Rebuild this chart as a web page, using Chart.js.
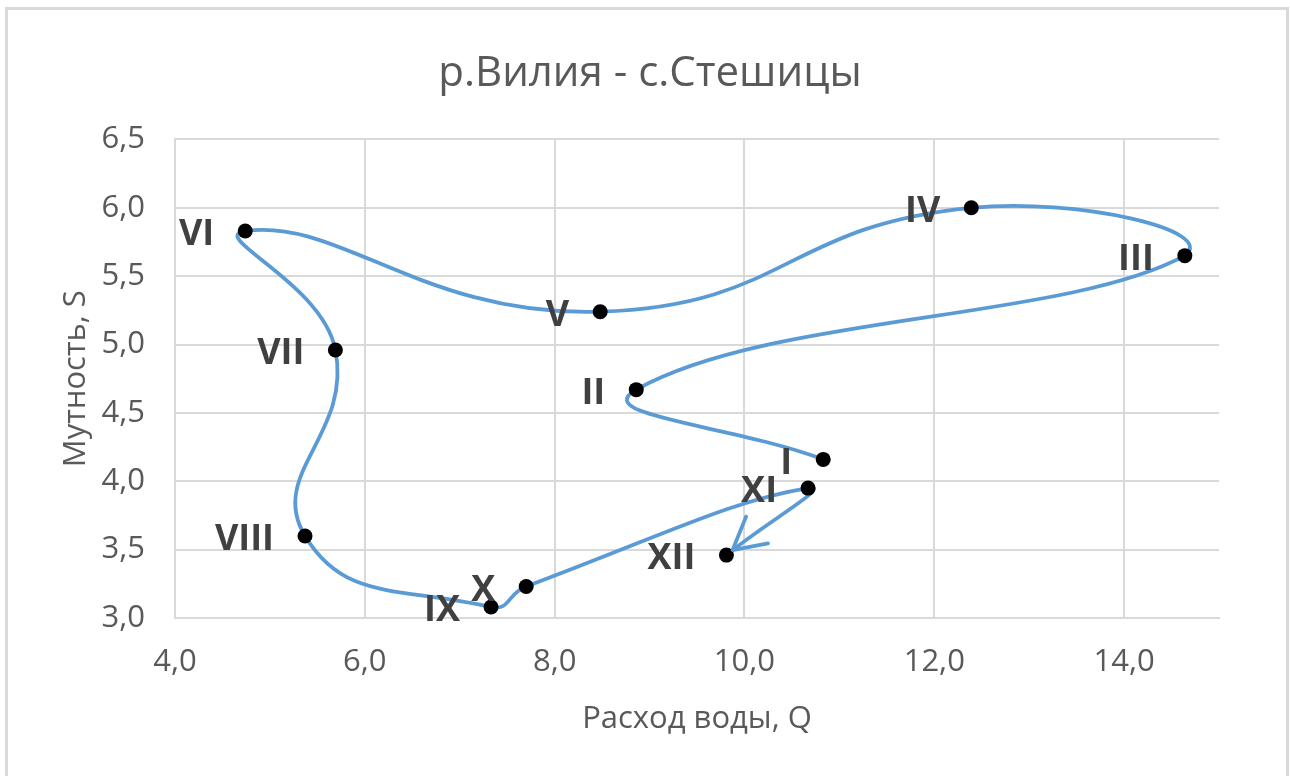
<!DOCTYPE html>
<html>
<head>
<meta charset="utf-8">
<script src="https://cdn.jsdelivr.net/npm/chart.js@4.4.1/dist/chart.umd.min.js"></script>
<style>
  html, body { margin: 0; padding: 0; background: #fff; overflow: hidden; }
  #wrap { position: absolute; left: 0; top: 0; width: 1290px; height: 776px; }
  #frame { position: absolute; left: 5px; top: 7px; width: 1278px; height: 800px;
           border: 3px solid #d9d9d9; pointer-events: none; }
</style>
</head>
<body>
<div id="wrap">
  <canvas id="c" width="1290" height="776"></canvas>
  <div id="frame"></div>
</div>
<script>
// ---- data ----
const monthLabels = ['I', 'II', 'III', 'IV', 'V', 'VI', 'VII', 'VIII', 'IX', 'X', 'XI', 'XII'];
const discharge = [10.83, 8.86, 14.64, 12.39, 8.48, 4.74, 5.69, 5.37, 7.33, 7.70, 10.67, 9.81];
const turbidity = [4.16, 4.67, 5.65, 6.00, 5.24, 5.83, 4.96, 3.60, 3.08, 3.23, 3.95, 3.46];
const xTicks = [4, 6, 8, 10, 12, 14];
const chartTitle = 'р.Вилия - с.Стешицы';
const xTitle = 'Расход воды, Q';
const yTitle = 'Мутность, S';

const FONT = "'Open Sans', 'Liberation Sans', sans-serif";
const GRID = '#d9d9d9';
const TEXT = '#595959';
const LINE = '#5B9BD5';

const points = discharge.map((q, i) => ({ x: q, y: turbidity[i] }));

const labelsAndArrow = {
  id: 'labelsAndArrow',
  afterDatasetsDraw(chart) {
    const ctx = chart.ctx;
    const meta = chart.getDatasetMeta(0);
    const els = meta.data;
    // open arrowhead at the end of the line
    const last = els[els.length - 1];
    const prev = els[els.length - 2];
    let fx = last.cp1x !== undefined ? last.cp1x : prev.x;
    let fy = last.cp1y !== undefined ? last.cp1y : prev.y;
    if (Math.hypot(last.x - fx, last.y - fy) < 1) { fx = prev.x; fy = prev.y; }
    const ang = Math.atan2(last.y - fy, last.x - fx);
    const tipX = last.x - 8 * Math.cos(ang);
    const tipY = last.y - 8 * Math.sin(ang);
    const wing = 36, spread = 0.5;
    ctx.save();
    ctx.strokeStyle = LINE;
    ctx.lineWidth = 3.8;
    ctx.lineCap = 'round';
    ctx.lineJoin = 'round';
    ctx.beginPath();
    ctx.moveTo(tipX - wing * Math.cos(ang - spread), tipY - wing * Math.sin(ang - spread));
    ctx.lineTo(tipX, tipY);
    ctx.lineTo(tipX - wing * Math.cos(ang + spread), tipY - wing * Math.sin(ang + spread));
    ctx.stroke();
    ctx.restore();

    // data labels, to the left of each point
    ctx.save();
    ctx.font = "bold 36px " + FONT;
    ctx.fillStyle = '#404040';
    ctx.textAlign = 'right';
    ctx.textBaseline = 'middle';
    els.forEach((el, i) => {
      ctx.fillText(monthLabels[i], el.x - 31, el.y + 4);
    });
    ctx.restore();
  }
};

new Chart(document.getElementById('c'), {
  type: 'scatter',
  data: {
    datasets: [{
      data: points,
      showLine: true,
      borderColor: LINE,
      borderWidth: 3.8,
      tension: 0.5,
      pointRadius: 7.5,
      pointHoverRadius: 7.5,
      pointBackgroundColor: '#000',
      pointBorderColor: '#000',
      pointBorderWidth: 0,
      clip: false
    }]
  },
  options: {
    responsive: false,
    animation: false,
    devicePixelRatio: 1,
    layout: { padding: { left: 10, right: 0, top: 0, bottom: 0 } },
    plugins: {
      legend: { display: false },
      tooltip: { enabled: false },
      title: {
        display: true,
        text: chartTitle,
        color: TEXT,
        font: { family: FONT, size: 42, weight: 'normal' },
        padding: { top: 49, bottom: 40 }
      }
    },
    scales: {
      x: {
        type: 'linear',
        min: 4, max: 15,
        afterBuildTicks(scale) {
          scale.ticks = xTicks.map(v => ({ value: v }));
        },
        afterFit(scale) { scale.height = 158; },
        grid: { color: GRID, lineWidth: 2, drawTicks: false },
        border: { color: GRID, width: 2 },
        ticks: {
          color: TEXT,
          font: { family: FONT, size: 31 },
          padding: 26,
          maxRotation: 0,
          callback: v => v.toFixed(1).replace('.', ',')
        },
        title: {
          display: true,
          text: xTitle,
          color: TEXT,
          font: { family: FONT, size: 31 },
          padding: { top: 0, bottom: 38 }
        }
      },
      y: {
        type: 'linear',
        min: 3, max: 6.5,
        afterFit(scale) { scale.width = 165; },
        grid: { color: GRID, lineWidth: 2, drawTicks: false },
        border: { color: GRID, width: 2 },
        ticks: {
          stepSize: 0.5,
          color: TEXT,
          font: { family: FONT, size: 31 },
          padding: 30,
          callback: v => v.toFixed(1).replace('.', ',')
        },
        title: {
          display: true,
          text: yTitle,
          color: TEXT,
          font: { family: FONT, size: 31 },
          padding: { top: 48, bottom: 0 }
        }
      },
      yRight: {
        type: 'linear',
        position: 'right',
        min: 0, max: 1,
        afterFit(scale) { scale.width = 71; },
        grid: { display: false, drawTicks: false },
        border: { display: false },
        ticks: { display: false }
      }
    }
  },
  plugins: [labelsAndArrow]
});
</script>
</body>
</html>
